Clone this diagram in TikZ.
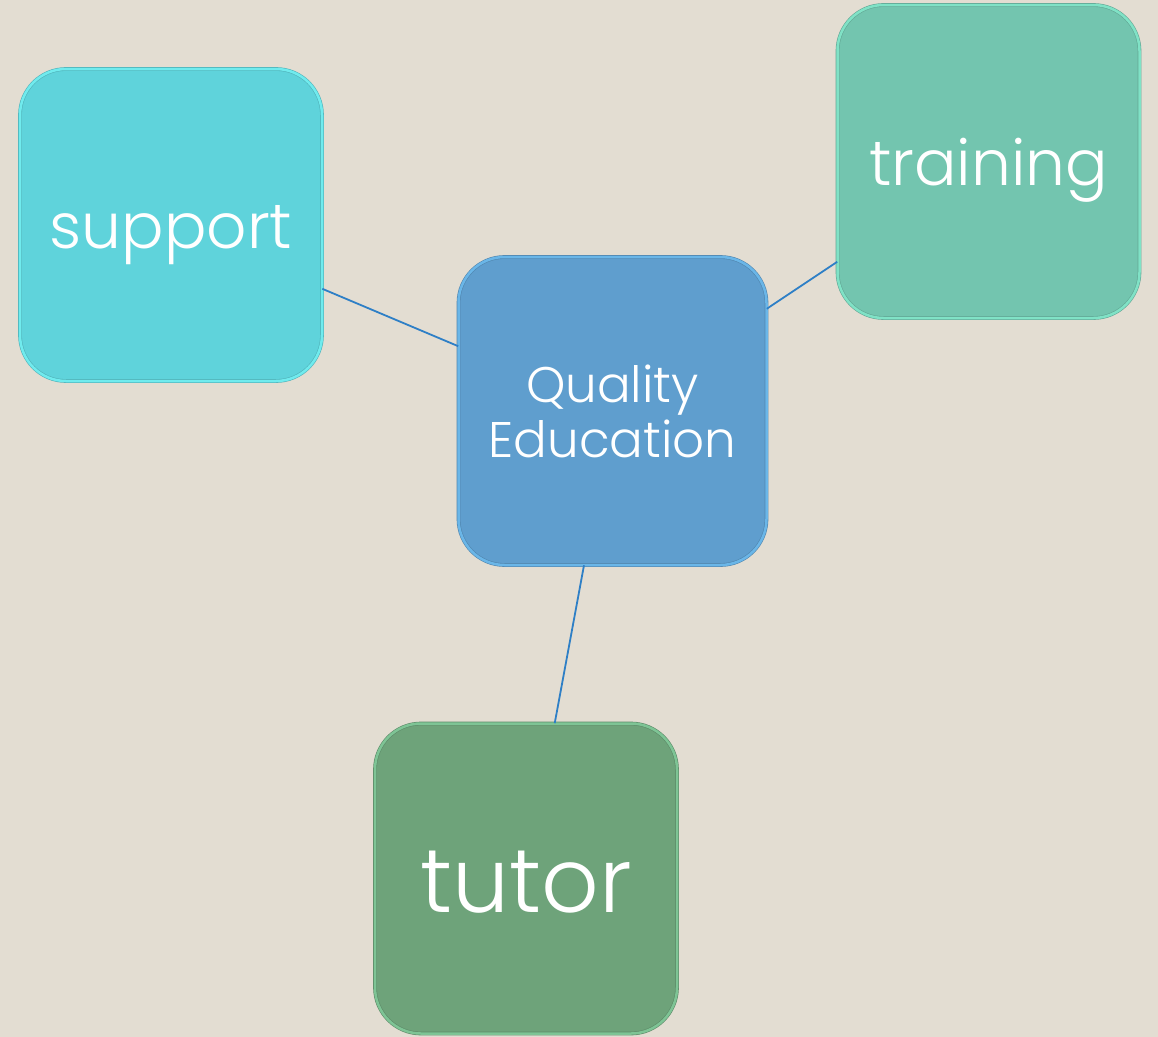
\documentclass[tikz,border=0pt]{standalone}
\usepackage{fontspec}
\setmainfont{Poppins Light}
\definecolor{bg}{HTML}{E3DDD2}
\definecolor{lnk}{HTML}{2E7FC6}
\definecolor{cSup}{HTML}{5FD3DB}
\definecolor{cSupE}{HTML}{70EBEE}
\definecolor{cTra}{HTML}{73C5AF}
\definecolor{cTraE}{HTML}{80E2C6}
\definecolor{cCen}{HTML}{5F9ECE}
\definecolor{cCenE}{HTML}{6AB6E8}
\definecolor{cTut}{HTML}{6EA37A}
\definecolor{cTutE}{HTML}{7EC495}
\tikzset{
  box/.style={rounded corners=46pt, minimum width=302pt, minimum height=312pt,
    inner sep=0pt, text=white, double distance=2.5pt, line width=0.6pt},
  link/.style={draw=lnk, line width=1.8pt}
}
\begin{document}
\begin{tikzpicture}[x=1pt,y=-1pt]
\useasboundingbox (0,0) rectangle (1158,1036);
\fill[bg] (-6,-6) rectangle (1164,1042);
\node[box, fill=cSup, draw=cSup!85!black, double=cSupE, font=\fontsize{63}{70}\selectfont] (support) at (171,225) {\raisebox{-23pt}[0pt][0pt]{support}};
\node[box, fill=cTra, draw=cTra!85!black, double=cTraE, font=\fontsize{63}{70}\selectfont, minimum height=313pt] (training) at (988.5,161.5) {\raisebox{-23.5pt}[0pt][0pt]{training}};
\node[box, fill=cCen, draw=cCen!85!black, double=cCenE, font=\fontsize{50}{55}\selectfont, minimum width=308pt, minimum height=308pt] (center) at (612.5,411) {\raisebox{-46pt}[0pt][0pt]{\begin{tabular}[b]{@{}c@{}}Quality\\Education\end{tabular}}};
\node[box, fill=cTut, draw=cTut!85!black, double=cTutE, font=\fontsize{90}{96}\selectfont, minimum height=310pt] (tutor) at (526,878.5) {\raisebox{-34pt}[0pt][0pt]{tutor}};
\draw[link] (support) -- (center);
\draw[link] (training) -- (center);
\draw[link] (tutor) -- (center);
\end{tikzpicture}
\end{document}
